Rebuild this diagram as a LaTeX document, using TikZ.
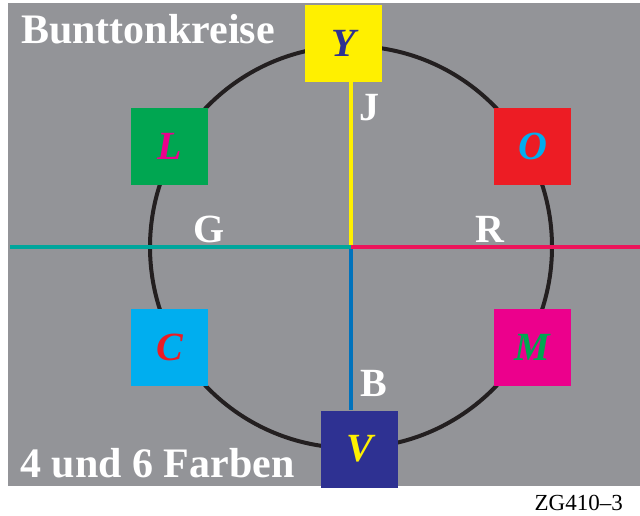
\documentclass[tikz,border=0pt]{standalone}
\usepackage{fontspec}
\setmainfont{Liberation Serif}
\definecolor{bggray}{RGB}{147,148,152}
\definecolor{cyel}{RGB}{255,240,0}
\definecolor{cgrn}{RGB}{0,166,81}
\definecolor{cred}{RGB}{237,28,36}
\definecolor{ccya}{RGB}{0,174,239}
\definecolor{cmag}{RGB}{236,0,140}
\definecolor{cnavy}{RGB}{46,49,146}
\definecolor{lteal}{RGB}{0,166,156}
\definecolor{lrose}{RGB}{237,20,90}
\definecolor{lblue}{RGB}{0,114,188}
\definecolor{ring}{RGB}{35,31,32}
\begin{document}
\begin{tikzpicture}[x=1pt,y=-1pt,
  colbox/.style={minimum size=77pt,inner sep=0pt,font=\fontsize{40}{40}\selectfont\bfseries\itshape},
  axislbl/.style={anchor=base west,inner sep=0pt,text=white,font=\fontsize{40}{40}\selectfont\bfseries},
  axisline/.style={line width=4pt}]
\useasboundingbox (0,0) rectangle (640,515);
\fill[bggray] (8,3) rectangle (640,486);
\coordinate (o) at (351,247);
\coordinate (w) at (10,247);
\coordinate (e) at (640,247);
\draw[ring,line width=4pt] (o) circle (201pt);
% farbfelder
\node[colbox,fill=cyel,text=cnavy] (Y) at (343.5,43) {Y};
\node[colbox,fill=cgrn,text=cmag] (L) at (169.5,146) {L};
\node[colbox,fill=cred,text=ccya] (O) at (532.5,146) {O};
\node[colbox,fill=ccya,text=cred] (C) at (169.5,347.5) {C};
\node[colbox,fill=cmag,text=cgrn] (M) at (532.5,347.5) {M};
\node[colbox,fill=cnavy,text=cyel] (V) at (359.5,449) {V};
% achsen
\draw[axisline,cyel] (Y.south -| o) -- (o);
\draw[axisline,lblue] (o) -- (V.north -| o);
\draw[axisline,lteal] (w) -- (o);
\draw[axisline,lrose] (o) -- (e);
\node[axislbl] (J) at (359,120) {J};
\node[axislbl] (G) at (193,242) {G};
\node[axislbl] (R) at (475,242) {R};
\node[axislbl] (B) at (360,396) {B};
% texte
\node[anchor=base west,inner sep=0pt,text=white,font=\fontsize{42}{42}\selectfont\bfseries] (title) at (21,43) {Bunttonkreise};
\node[anchor=base west,inner sep=0pt,text=white,font=\fontsize{42}{42}\selectfont\bfseries] (sub) at (20,477) {4 und 6 Farben};
\node[anchor=base east,inner sep=0pt,font=\fontsize{23}{23}\selectfont] (code) at (623,510) {ZG410–3};
\end{tikzpicture}
\end{document}
